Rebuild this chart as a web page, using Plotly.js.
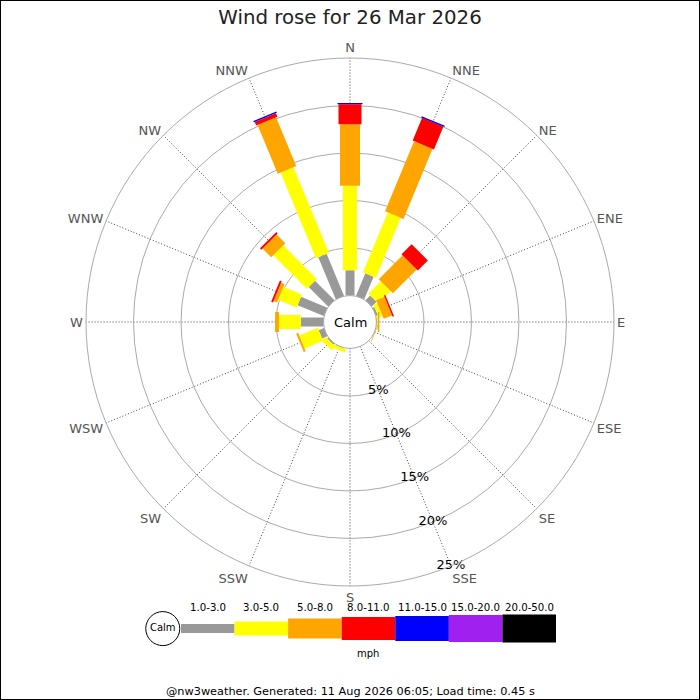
<!DOCTYPE html>
<html>
<head>
<meta charset="utf-8">
<script src="https://cdn.plot.ly/plotly-3.0.1.min.js"></script>
<style>
html,body{margin:0;padding:0;background:#fff;}
#chart{width:700px;height:700px;}
</style>
</head>
<body>
<div id="chart"></div>
<script>
// ---- data ----
const directions = ['N','NNE','NE','ENE','E','ESE','SE','SSE','S','SSW','SW','WSW','W','WNW','NW','NNW'];
const speedBands = ['1.0-3.0','3.0-5.0','5.0-8.0','8.0-11.0','11.0-15.0','15.0-20.0','20.0-50.0'];
const speedUnit = 'mph';
// percentage of time per direction, per speed band
const band1to3   = [2.68, 2.57, 0.70, 0.20, 0.05, 0.02, 0, 0, 0, 0.05, 0.15, 0.60, 2.40, 3.00, 2.90, 4.80];
const band3to5   = [8.88, 6.83, 1.85, 0.43, 0.10, 0.02, 0, 0, 0, 0.35, 0.55, 2.10, 2.30, 2.10, 5.00, 9.74];
const band5to8   = [6.46, 7.98, 3.55, 0.95, 0.15, 0.06, 0, 0, 0, 0, 0, 0.22, 0.40, 0.40, 1.30, 5.56];
const band8to11  = [2.11, 2.59, 1.50, 0.16, 0, 0, 0, 0, 0, 0, 0, 0, 0, 0.20, 0.20, 0.40];
const band11to15 = [0.13, 0.15, 0, 0, 0, 0, 0, 0, 0, 0, 0, 0, 0, 0, 0, 0.15];
const band15to20 = [0, 0, 0, 0, 0, 0, 0, 0, 0, 0, 0, 0, 0, 0, 0, 0];
const band20to50 = [0, 0, 0, 0, 0, 0, 0, 0, 0, 0, 0, 0, 0, 0, 0, 0];
const radialTicks = [0, 5, 10, 15, 20, 25];
const radialTickText = ['', '5%', '10%', '15%', '20%', '25%'];
const radialLabelDirection = 'SSE';
const titleText = 'Wind rose for 26 Mar 2026';
const footerText = '@nw3weather. Generated: 11 Aug 2026 06:05; Load time: 0.45 s';

// ---- styles ----
const bandSeries = [band1to3, band3to5, band5to8, band8to11, band11to15, band15to20, band20to50];
const bandColors = ['#999999', '#ffff00', '#ffa500', '#ff0000', '#0000ff', '#a020f0', '#000000'];
const bandWidths = [9, 14, 20, 23, 25, 27, 28];
const FONT = 'DejaVu Sans, sans-serif';

const traces = [];
const cum = directions.map(() => 0);
bandSeries.forEach((series, b) => {
  const r = [], th = [];
  series.forEach((v, d) => {
    if (v > 0) {
      r.push(cum[d], cum[d] + v, null);
      th.push(directions[d], directions[d], null);
      cum[d] += v;
    }
  });
  traces.push({
    type: 'scatterpolar', mode: 'lines', r: r, theta: th,
    line: {color: bandColors[b], width: bandWidths[b]},
    connectgaps: false, showlegend: false, hoverinfo: 'skip', subplot: 'polar'
  });
});

// radial scale labels, centred on the SSE spoke
traces.push({
  type: 'scatterpolar', mode: 'text',
  r: radialTicks.slice(1), theta: radialTicks.slice(1).map(() => radialLabelDirection),
  text: radialTickText.slice(1), textposition: 'middle center',
  textfont: {family: FONT, size: 13, color: '#000'},
  cliponaxis: false, showlegend: false, hoverinfo: 'skip', subplot: 'polar'
});

// legend key (drawn on a hidden cartesian axis)
speedBands.forEach((lab, i) => {
  traces.push({
    type: 'scatter', mode: 'lines', x: [i, i + 1], y: [0, 0],
    line: {color: bandColors[i], width: bandWidths[i]},
    showlegend: false, hoverinfo: 'skip', xaxis: 'x', yaxis: 'y', cliponaxis: false
  });
});
traces.push({
  type: 'scatter', mode: 'markers+text', x: [-0.34], y: [0], text: ['Calm'],
  textposition: 'middle center', textfont: {family: FONT, size: 10, color: '#000'},
  marker: {size: 34, color: '#fff', line: {color: '#000', width: 1}},
  showlegend: false, hoverinfo: 'skip', xaxis: 'x', yaxis: 'y', cliponaxis: false
});

const annotations = speedBands.map((lab, i) => ({
  text: lab, x: i + 0.5, xref: 'x', y: 0.1315, yref: 'paper',
  showarrow: false, font: {family: FONT, size: 10.2, color: '#000'}, yanchor: 'middle'
}));
annotations.push({
  text: speedUnit, x: 3.5, xref: 'x', y: 0.066, yref: 'paper',
  showarrow: false, font: {family: FONT, size: 10, color: 'black'}, yanchor: 'middle'
});
annotations.push({
  text: 'Calm', x: 0.5, xref: 'paper', y: (700 - 322) / 700, yref: 'paper',
  showarrow: false, font: {family: FONT, size: 13, color: '#000'}, yanchor: 'middle'
});
annotations.push({
  text: footerText, x: 0.5, xref: 'paper', y: (700 - 691) / 700, yref: 'paper',
  showarrow: false, font: {family: FONT, size: 11.3, color: '#000'}, yanchor: 'middle'
});

const layout = {
  width: 700, height: 700,
  margin: {l: 0, r: 0, t: 0, b: 0, pad: 0},
  paper_bgcolor: '#fff', plot_bgcolor: '#fff',
  font: {family: FONT},
  hovermode: false,
  title: {text: titleText, x: 0.5, xanchor: 'center', y: 1 - 17.5 / 700, yanchor: 'middle',
          font: {family: FONT, size: 19.8, color: '#222'}},
  polar: {
    domain: {x: [86 / 700, 614 / 700], y: [114 / 700, 642 / 700]},
    hole: 0.1,
    bgcolor: 'rgba(0,0,0,0)',
    angularaxis: {
      type: 'category', categoryarray: directions,
      direction: 'clockwise', rotation: 90,
      showline: true, linecolor: '#aaaaaa', linewidth: 1,
      showgrid: true, gridcolor: '#444444', gridwidth: 1, griddash: '1px,2px',
      ticks: '', tickfont: {family: FONT, size: 13, color: '#555555'}
    },
    radialaxis: {
      range: [0, 25], tickmode: 'array', tickvals: radialTicks, ticktext: radialTickText,
      angle: -67.5, showticklabels: false,
      showline: false, ticks: '',
      showgrid: true, gridcolor: '#aaaaaa', gridwidth: 1
    }
  },
  xaxis: {domain: [140 / 700, 556 / 700], range: [-0.765, 7], visible: false, fixedrange: true},
  yaxis: {domain: [0.052, 0.152], range: [-1, 1], visible: false, fixedrange: true},
  annotations: annotations,
  shapes: [{type: 'rect', xref: 'paper', yref: 'paper', x0: 0, x1: 1, y0: 0, y1: 1,
            line: {color: '#000', width: 2}, fillcolor: 'rgba(0,0,0,0)'}]
};

Plotly.newPlot('chart', traces, layout, {staticPlot: true, displayModeBar: false});
</script>
</body>
</html>
